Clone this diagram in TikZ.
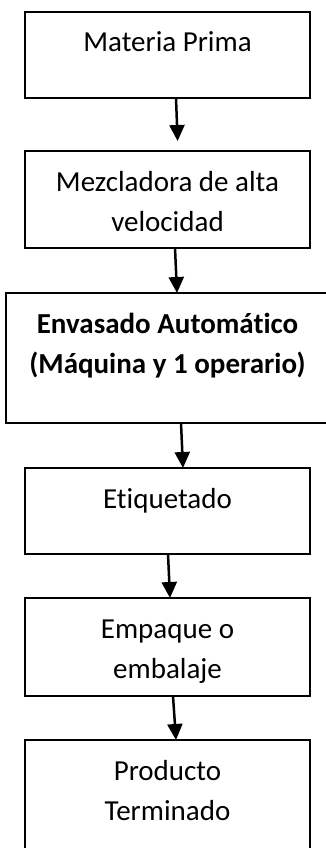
\documentclass[tikz,border=0pt]{standalone}
\usepackage{fontspec}
\setmainfont[Ligatures=NoCommon]{Carlito}
\usepackage{tikz}
\usetikzlibrary{positioning, arrows.meta}
\tikzstyle{etapa}=[rectangle, draw=black, line width=2.5pt, inner sep=0pt, outer sep=0pt, minimum width=285pt, font=\fontsize{29pt}{40pt}\selectfont]
\tikzstyle{flecha}=[line width=2.5pt, -{Triangle[length=16pt, width=15pt]}]
\newcommand{\texto}[2]{\parbox[c][#1][t]{282pt}{\centering\vspace*{12pt}\strut #2}}

\begin{document}
\begin{tikzpicture}[x=1pt, y=1pt]
            %Diagrama de flujo del proceso, de arriba hacia abajo
            \useasboundingbox (0,0) rectangle (326,-848);
            \node[etapa, anchor=north, minimum height=86pt](b1) at (167.5,-12){\texto{86pt}{Materia Prima}};
            \node[etapa, below=53pt of b1, minimum height=97pt](b2){\texto{97pt}{Mezcladora de alta\\velocidad}};
            \node[etapa, below=45pt of b2, minimum width=323pt, minimum height=130pt](b3){\texto{130pt}{\textbf{Envasado Automático}\\\textbf{(Máquina y 1 operario)}}};
            \node[etapa, below=45pt of b3, minimum height=86pt](b4){\texto{86pt}{Etiquetado}};
            \node[etapa, below=44pt of b4, minimum height=98pt](b5){\texto{98pt}{Empaque o\\embalaje}};
            \node[etapa, below=44pt of b5, minimum height=120pt](b6){\texto{120pt}{Producto\\Terminado}};
            \draw[flecha, shorten >=10pt] ([xshift=8.5pt]b1.south) -- ([xshift=10.5pt]b2.north);
            \foreach \a/\b/\s/\e in {b2/b3/7.5/9.5, b3/b4/13.5/15.5, b4/b5/0.5/2.5, b5/b6/5.5/8.5}{
                \draw[flecha] ([xshift=\s pt]\a.south) -- ([xshift=\e pt]\b.north);
            }
        \end{tikzpicture}
\end{document}
